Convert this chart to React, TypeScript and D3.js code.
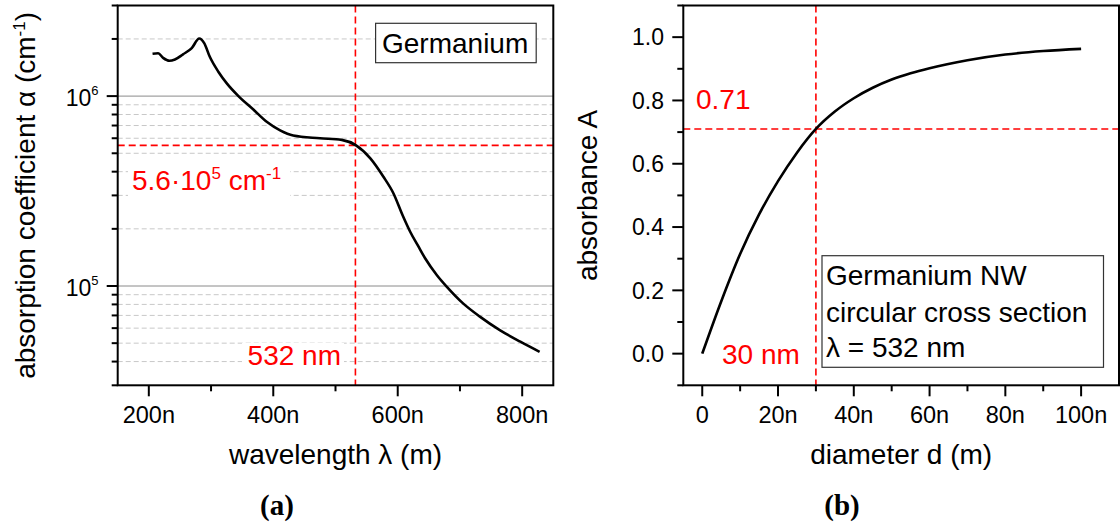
import React from 'react';
import * as d3 from 'd3';

// ---------- data ----------
const wavelengthNm = [206, 215, 223, 233, 242, 255, 269, 281, 289, 298, 312, 325, 344, 368, 390, 411, 432, 475, 510, 533, 556, 577, 593, 608, 620, 633, 644, 663, 679, 705, 732, 764, 797, 828];
const alphaPerCm = [1.67e6, 1.68e6, 1.59e6, 1.535e6, 1.56e6, 1.66e6, 1.79e6, 2.01e6, 1.9e6, 1.61e6, 1.34e6, 1.17e6, 1.0e6, 8.5e5, 7.3e5, 6.6e5, 6.2e5, 6.0e5, 5.88e5, 5.5e5, 4.7e5, 3.76e5, 3.08e5, 2.35e5, 1.93e5, 1.62e5, 1.4e5, 1.14e5, 9.9e4, 8.1e4, 6.9e4, 5.86e4, 5.09e4, 4.5e4];

const diameterNm = [0, 5, 10, 15, 20, 25, 30, 35, 40, 45, 50, 55, 60, 70, 80, 90, 100];
const absorbanceA = [0, 0.165, 0.315, 0.44, 0.545, 0.635, 0.71, 0.765, 0.807, 0.84, 0.866, 0.886, 0.902, 0.927, 0.945, 0.956, 0.963];

const leftXMajor = [200, 400, 600, 800];
const leftXMinor = [300, 500, 700];
const leftYMajor = [1e5, 1e6];
const leftYMajorExp = [5, 6];
const leftYMinor = [3e4, 4e4, 5e4, 6e4, 7e4, 8e4, 9e4, 2e5, 3e5, 4e5, 5e5, 6e5, 7e5, 8e5, 9e5, 2e6, 3e6];

const rightXMajor = [0, 20, 40, 60, 80, 100];
const rightXMinor = [10, 30, 50, 70, 90];
const rightYMajor = [0, 0.2, 0.4, 0.6, 0.8, 1.0];
const rightYMinor = [-0.1, 0.1, 0.3, 0.5, 0.7, 0.9, 1.1];

const markerLambda = 532;
const markerAlpha = 5.5e5;
const markerD = 30;
const markerA = 0.71;

// ---------- layout ----------
const FONT = "'Liberation Sans', Arial, sans-serif";
const TOP = 5.5;
const BOTTOM = 385.3;
const L = { x0: 117.7, x1: 553.3 };
const R = { x0: 683.3, x1: 1119 };
const MAJ = 11;
const MIN = 6;

const xL = d3.scaleLinear().domain([150, 850]).range([L.x0, L.x1]);
const yL = d3.scaleLog().domain([3e4, 3e6]).range([BOTTOM, TOP]);
const xR = d3.scaleLinear().domain([-5, 110]).range([R.x0, R.x1]);
const yR = d3.scaleLinear().domain([-0.1, 1.1]).range([BOTTOM, TOP]);

const leftLine = d3
  .line<number>()
  .x((_, i) => xL(wavelengthNm[i]))
  .y((v) => yL(v))
  .curve(d3.curveMonotoneX)(alphaPerCm) as string;

const rightLine = d3
  .line<number>()
  .x((_, i) => xR(diameterNm[i]))
  .y((v) => yR(v))
  .curve(d3.curveMonotoneX)(absorbanceA) as string;

const RED = '#ff0000';

export default function App() {
  return (
    <svg
      width={1120}
      height={526}
      style={{ position: 'absolute', left: 0, top: 0, background: '#fff' }}
      fontFamily={FONT}
    >
      <rect x={0} y={0} width={1120} height={526} fill="#fff" />

      {/* ================= LEFT PANEL ================= */}
      {leftYMinor
        .filter((v) => v > 3e4 && v < 3e6)
        .map((v) => (
          <line key={'lg' + v} x1={L.x0} x2={L.x1} y1={yL(v)} y2={yL(v)} stroke="#c8c8c8" strokeWidth={1} strokeDasharray="5,3" />
        ))}
      {leftYMajor.map((v) => (
        <line key={'lG' + v} x1={L.x0} x2={L.x1} y1={yL(v)} y2={yL(v)} stroke="#8a8a8a" strokeWidth={1} />
      ))}
      <line x1={L.x0} x2={L.x1} y1={yL(markerAlpha)} y2={yL(markerAlpha)} stroke={RED} strokeWidth={1.6} strokeDasharray="7,4" />
      <line x1={xL(markerLambda)} x2={xL(markerLambda)} y1={TOP} y2={BOTTOM} stroke={RED} strokeWidth={1.6} strokeDasharray="7,4" />
      <path d={leftLine} fill="none" stroke="#000" strokeWidth={2.6} strokeLinejoin="round" />

      <rect x={128} y={163} width={162} height={36} fill="#fff" />
      <text x={132} y={190} fontSize={28} fill={RED}>
        5.6·10
        <tspan dy={-11} fontSize={17}>5</tspan>
        <tspan dy={11}> cm</tspan>
        <tspan dy={-11} fontSize={17}>-1</tspan>
      </text>
      <rect x={242} y={343} width={102} height={27} fill="#fff" />
      <text x={341} y={365} fontSize={28} fill={RED} textAnchor="end">532 nm</text>

      <rect x={375.6} y={23.3} width={160.6} height={39.4} fill="#fff" stroke="#333" strokeWidth={1.2} />
      <text x={382} y={53} fontSize={28} fill="#000">Germanium</text>

      <rect x={L.x0} y={TOP} width={L.x1 - L.x0} height={BOTTOM - TOP} fill="none" stroke="#000" strokeWidth={2} />
      {leftXMajor.map((v) => (
        <g key={'lx' + v}>
          <line x1={xL(v)} x2={xL(v)} y1={BOTTOM} y2={BOTTOM + MAJ} stroke="#000" strokeWidth={2} />
          <text x={xL(v)} y={423} fontSize={23.5} textAnchor="middle">{v}n</text>
        </g>
      ))}
      {leftXMinor.map((v) => (
        <line key={'lxm' + v} x1={xL(v)} x2={xL(v)} y1={BOTTOM} y2={BOTTOM + MIN} stroke="#000" strokeWidth={2} />
      ))}
      {leftYMajor.map((v, i) => (
        <g key={'ly' + v}>
          <line x1={L.x0 - MAJ} x2={L.x0} y1={yL(v)} y2={yL(v)} stroke="#000" strokeWidth={2} />
          <text x={98.5} y={yL(v) + 9.8} fontSize={23} textAnchor="end">
            10
            <tspan dy={-11} fontSize={13}>{leftYMajorExp[i]}</tspan>
          </text>
        </g>
      ))}
      {leftYMinor.map((v) => (
        <line key={'lym' + v} x1={L.x0 - MIN} x2={L.x0} y1={yL(v)} y2={yL(v)} stroke="#000" strokeWidth={2} />
      ))}
      <text x={(L.x0 + L.x1) / 2} y={464} fontSize={28} textAnchor="middle">wavelength λ (m)</text>
      <text transform={`translate(35, ${(TOP + BOTTOM) / 2}) rotate(-90)`} fontSize={28} textAnchor="middle">
        absorption coefficient α (cm
        <tspan dy={-10} fontSize={17}>-1</tspan>
        <tspan dy={10}>)</tspan>
      </text>
      <text x={277} y={515} fontSize={29} fontWeight="bold" textAnchor="middle" fontFamily="'Liberation Serif', 'Times New Roman', serif">(a)</text>

      {/* ================= RIGHT PANEL ================= */}
      <line x1={R.x0} x2={R.x1} y1={yR(markerA)} y2={yR(markerA)} stroke={RED} strokeWidth={1.6} strokeDasharray="7,4" />
      <line x1={xR(markerD)} x2={xR(markerD)} y1={TOP} y2={BOTTOM} stroke={RED} strokeWidth={1.6} strokeDasharray="7,4" />
      <path d={rightLine} fill="none" stroke="#000" strokeWidth={2.6} strokeLinejoin="round" />

      <text x={696} y={109} fontSize={28} fill={RED}>0.71</text>
      <text x={722} y={364} fontSize={28} fill={RED}>30 nm</text>

      <rect x={822} y={255.7} width={281.5} height={111.6} fill="#fff" stroke="#333" strokeWidth={1.2} />
      <text x={826} y={285} fontSize={28}>Germanium NW</text>
      <text x={826} y={321.7} fontSize={28}>circular cross section</text>
      <text x={826} y={356.7} fontSize={28}>λ = 532 nm</text>

      <rect x={R.x0} y={TOP} width={R.x1 - R.x0} height={BOTTOM - TOP} fill="none" stroke="#000" strokeWidth={2} />
      {rightXMajor.map((v) => (
        <g key={'rx' + v}>
          <line x1={xR(v)} x2={xR(v)} y1={BOTTOM} y2={BOTTOM + MAJ} stroke="#000" strokeWidth={2} />
          <text x={xR(v)} y={423} fontSize={23.5} textAnchor="middle">{v === 0 ? '0' : `${v}n`}</text>
        </g>
      ))}
      {rightXMinor.map((v) => (
        <line key={'rxm' + v} x1={xR(v)} x2={xR(v)} y1={BOTTOM} y2={BOTTOM + MIN} stroke="#000" strokeWidth={2} />
      ))}
      {rightYMajor.map((v) => (
        <g key={'ry' + v}>
          <line x1={R.x0 - MAJ} x2={R.x0} y1={yR(v)} y2={yR(v)} stroke="#000" strokeWidth={2} />
          <text x={664} y={yR(v) + 8.3} fontSize={23} textAnchor="end">{d3.format('.1f')(v)}</text>
        </g>
      ))}
      {rightYMinor.map((v) => (
        <line key={'rym' + v} x1={R.x0 - MIN} x2={R.x0} y1={yR(v)} y2={yR(v)} stroke="#000" strokeWidth={2} />
      ))}
      <text x={(R.x0 + R.x1) / 2} y={464} fontSize={28} textAnchor="middle">diameter d (m)</text>
      <text transform={`translate(597, ${(TOP + BOTTOM) / 2}) rotate(-90)`} fontSize={28} textAnchor="middle">absorbance A</text>
      <text x={842} y={515} fontSize={29} fontWeight="bold" textAnchor="middle" fontFamily="'Liberation Serif', 'Times New Roman', serif">(b)</text>
    </svg>
  );
}
